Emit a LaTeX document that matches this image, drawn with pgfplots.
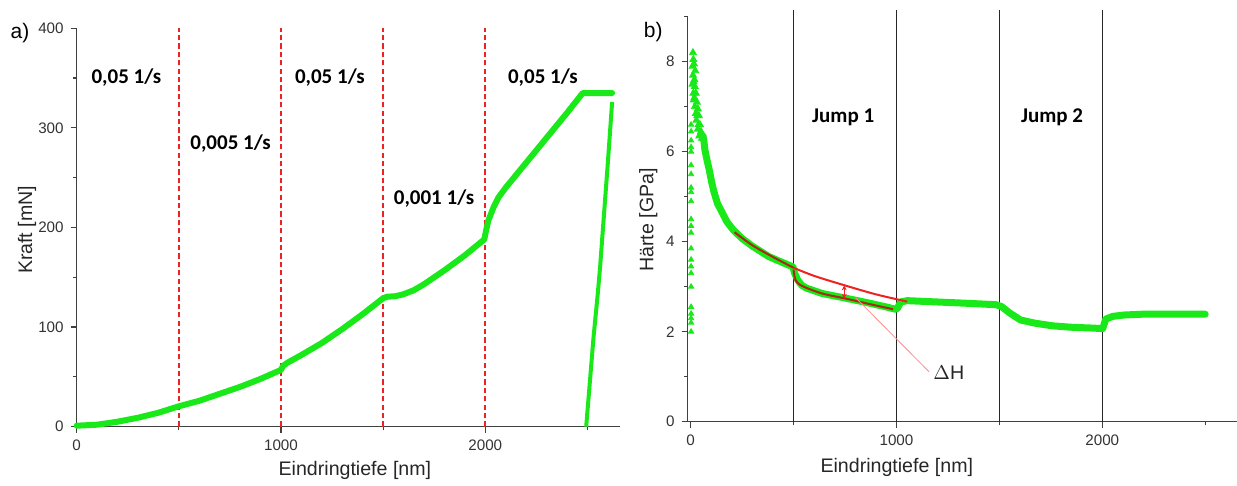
\documentclass[border=0pt]{standalone}
\usepackage{pgfplots}
\pgfplotsset{compat=1.18}
\usetikzlibrary{arrows.meta}
\usepackage{fontspec}
\setmainfont{Liberation Sans}
\newfontfamily\calibri{Carlito}
\definecolor{lime}{RGB}{25,232,25}
\definecolor{dred}{RGB}{235,35,35}
\definecolor{fitred}{RGB}{170,40,20}
\pgfplotsset{
  common/.style={
    scale only axis, anchor=south west, clip=false,
    axis x line=bottom, axis y line=left,
    axis line style={-, draw=black!75, line width=0.7pt},
    tick align=outside, major tick length=3pt, minor tick length=1.8pt,
    tick style={draw=black!75, line width=0.6pt},
    ticklabel style={font=\fontsize{7.6}{8}\selectfont, text=black!80},
    /pgf/number format/assume math mode=true,
    /pgf/number format/1000 sep={},
    scaled ticks=false,
    label style={font=\fontsize{9.8}{11}\selectfont, text=black!85},
  },
  rdash/.style={color=dred, line width=0.9pt, dash pattern=on 2.6pt off 1.6pt, forget plot},
  bline/.style={black!85, line width=0.6pt, forget plot},
}
\begin{document}
\begin{tikzpicture}
\useasboundingbox (0,0) rectangle (618.5pt,243pt);
% ---------------- panel a ----------------
\begin{axis}[common,
  at={(38.35pt,29.65pt)}, width=271.7pt, height=199.2pt,
  xmin=0, xmax=2660, ymin=0, ymax=400,
  xtick={0,1000,2000}, minor xtick={500,1500,2500},
  ytick={0,100,200,300,400}, minor ytick={50,150,250,350},
  xlabel={Eindringtiefe [nm]}, ylabel={Kraft [mN]},
  xlabel style={at={(rel axis cs:0.512,-0.109)}, anchor=center},
  ylabel style={at={(rel axis cs:-0.0915,0.494)}, anchor=center},
]
\addplot[rdash] coordinates {(500,0) (500,400)};
\addplot[rdash] coordinates {(1000,0) (1000,400)};
\addplot[rdash] coordinates {(1500,0) (1500,400)};
\addplot[rdash] coordinates {(2000,0) (2000,400)};
\addplot[lime, line width=3pt, line join=round, line cap=round] coordinates {
(0,1) (100,2) (200,5) (300,9) (400,14) (500,20.5) (600,26) (700,33) (800,40)
(900,48) (1000,57) (1010,61) (1030,64) (1100,72) (1200,84) (1300,98)
(1400,113) (1500,129) (1520,130.5) (1560,131) (1600,133) (1650,137)
(1700,143) (1800,157) (1900,172) (1995,188) (2005,198) (2015,207)
(2040,220) (2064,230) (2100,240) (2200,265) (2300,290) (2400,315)
(2477,335) (2621,335)};
\addplot[lime, line width=2pt, line join=round] coordinates {
(2494,0) (2510,40) (2530,90) (2550,132) (2562,160) (2580,210) (2600,265) (2621,326)};
\node[font=\calibri\bfseries\fontsize{10.5}{12}\selectfont] at (axis cs:243,351) {0,05 1/s};
\node[font=\calibri\bfseries\fontsize{10.5}{12}\selectfont] at (axis cs:753,284) {0,005 1/s};
\node[font=\calibri\bfseries\fontsize{10.5}{12}\selectfont] at (axis cs:1239,351) {0,05 1/s};
\node[font=\calibri\bfseries\fontsize{10.5}{12}\selectfont] at (axis cs:1749,229) {0,001 1/s};
\node[font=\calibri\bfseries\fontsize{10.5}{12}\selectfont] at (axis cs:2282,351) {0,05 1/s};
\node[font=\fontsize{10.5}{12}\selectfont] at (rel axis cs:-0.1043,0.9875) {a)};
\end{axis}
% ---------------- panel b ----------------
\begin{axis}[common,
  at={(343.8pt,32.15pt)}, width=275.25pt, height=202.5pt,
  xmin=-15, xmax=2660, ymin=0, ymax=9,
  xtick={0,1000,2000}, minor xtick={500,1500,2500},
  ytick={0,2,4,6,8}, minor ytick={1,3,5,7,9},
  xlabel={Eindringtiefe [nm]}, ylabel={Härte [GPa]},
  xlabel style={at={(rel axis cs:0.38,-0.112)}, anchor=center},
  ylabel style={at={(rel axis cs:-0.0714,0.498)}, anchor=center},
]
\addplot[bline] coordinates {(500,0) (500,9.15)};
\addplot[bline] coordinates {(1000,0) (1000,9.15)};
\addplot[bline] coordinates {(1500,0) (1500,9.15)};
\addplot[bline] coordinates {(2000,0) (2000,9.15)};
\addplot[lime, only marks, mark=triangle*, mark size=1.5pt] coordinates {
(2,2.0) (2,2.2) (2,2.3) (2,2.4) (2,2.55) (2,3.0) (2,3.3) (2,3.45) (2,3.6)
(2,3.85) (2,4.2) (2,4.35) (2,4.5) (2,4.9) (2,5.1) (2,5.2) (2,5.5) (2,5.7)
(2,6.0) (2,6.1) (2,6.25) (2,6.45) (2,6.6)};
\addplot[lime, only marks, mark=triangle*, mark size=2pt] coordinates {
(11,8.2) (13,8.05) (9,7.9) (16,7.95) (11,7.7) (18,7.6) (9,7.5) (20,7.45)
(13,7.3) (25,7.3) (15,7.15) (30,7.1) (20,7.0) (35,6.95) (25,6.85) (40,6.8)
(28,6.7) (45,6.6) (35,6.5) (50,6.45) (42,6.35) (55,6.3) (60,6.3) (48,6.4)
(22,7.8) (14,7.55) (32,6.8) (18,7.2) (38,6.6)};
\addplot[lime, line width=3.5pt, line join=round, line cap=round] coordinates {
(60,6.35) (64,6.25) (69,6.04) (80,5.8) (90,5.6) (103,5.30) (113,5.11) (130,4.85)
(155,4.63) (175,4.45) (207,4.26) (250,4.07) (300,3.9) (379,3.67)
(450,3.53) (497,3.44) (505,3.3) (521,3.14) (540,3.03) (562,2.97)
(638,2.85) (759,2.74) (873,2.63) (950,2.55) (995,2.5) (1005,2.52)
(1020,2.66) (1052,2.69) (1200,2.66) (1350,2.63) (1483,2.60) (1510,2.56)
(1552,2.41) (1603,2.26) (1672,2.19) (1759,2.13) (1845,2.10)
(1954,2.08) (2002,2.07) (2017,2.28) (2050,2.34) (2103,2.37)
(2200,2.39) (2337,2.39) (2500,2.39)};
% fitted / extrapolated lines
\addplot[fitred, line width=1pt, smooth] coordinates {
(213,4.21) (300,3.92) (400,3.66) (500,3.42)};
\addplot[dred, line width=1pt, smooth] coordinates {
(500,3.42) (600,3.24) (741,3.04) (900,2.83) (1052,2.67)};
\addplot[fitred, line width=1pt, smooth] coordinates {
(500,3.38) (509,3.15) (540,3.02) (638,2.85) (759,2.73) (873,2.61) (983,2.50)};
\draw[dred, line width=0.6pt, {Stealth[length=2.5pt,width=2.5pt]}-{Stealth[length=2.5pt,width=2.5pt]}] (axis cs:746,3.03) -- (axis cs:746,2.73);
\draw[red!45, line width=0.4pt] (axis cs:803,2.75) -- (axis cs:1158,1.11);
\node[font=\fontsize{9.8}{11}\selectfont, text=black!85] at (axis cs:1254,1.08) {$\Delta$H};
\node[font=\calibri\bfseries\fontsize{10.5}{12}\selectfont] at (axis cs:741,6.76) {Jump 1};
\node[font=\calibri\bfseries\fontsize{10.5}{12}\selectfont] at (axis cs:1756,6.76) {Jump 2};
\node[font=\fontsize{10.5}{12}\selectfont] at (rel axis cs:-0.0623,0.963) {b)};
\end{axis}
\end{tikzpicture}
\end{document}
